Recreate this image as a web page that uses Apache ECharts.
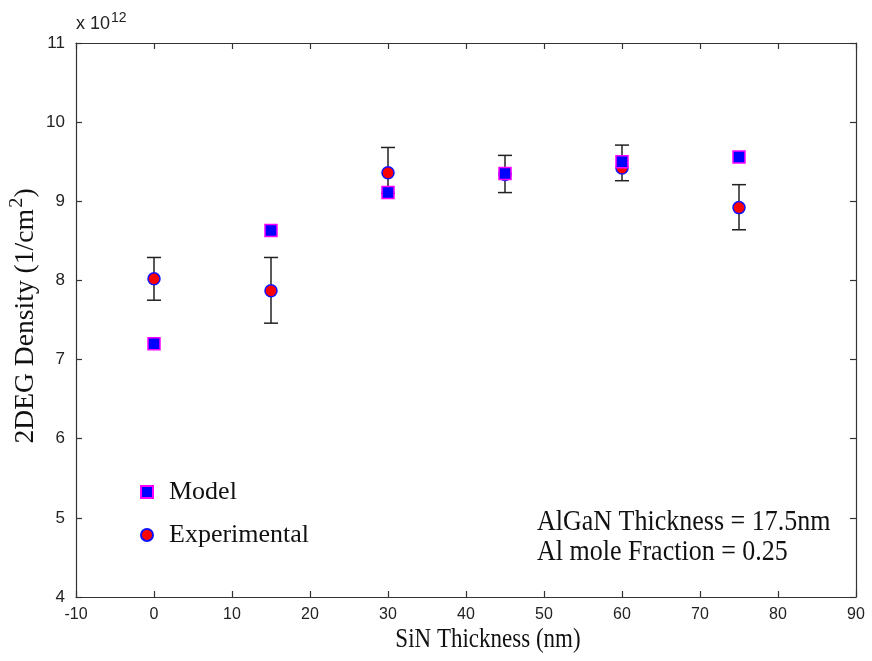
<!DOCTYPE html>
<html><head><meta charset="utf-8">
<script src="https://cdn.jsdelivr.net/npm/echarts@6/dist/echarts.min.js"></script>
<style>html,body{margin:0;padding:0;background:#fff}#c{width:872px;height:661px}</style>
</head><body><div id="c"></div>
<script>
var thickness = [0, 15, 30, 45, 60, 75];
var modelValues = [7.20, 8.63, 9.11, 9.35, 9.50, 9.56];
var expValues = [8.02, 7.87, 9.36, 9.34, 9.42, 8.92];
var expLow = [7.75, 7.46, 9.10, 9.11, 9.26, 8.64];
var expHigh = [8.29, 8.29, 9.68, 9.58, 9.71, 9.21];
var xTicks = [-10, 0, 10, 20, 30, 40, 50, 60, 70, 80, 90];
var yTicks = [4, 5, 6, 7, 8, 9, 10, 11];
var xTitle = 'SiN Thickness (nm)';
var yTitle = ['2DEG Density (1/cm', '2', ')'];
var annotation = ['AlGaN Thickness = 17.5nm', 'Al mole Fraction = 0.25'];

var chart = echarts.init(document.getElementById('c'));
var serif = '"Liberation Serif", "Times New Roman", serif';
var sans = '"Liberation Sans", Arial, sans-serif';
var axisLine = {show: true, onZero: false, lineStyle: {color: '#333', width: 1.2}};
var tick = {show: true, inside: true, length: 6, lineStyle: {color: '#333', width: 1.2}};
function baseX(pos, showLabel) {
  return {type: 'value', position: pos, min: xTicks[0], max: xTicks[xTicks.length-1], interval: 10,
    axisLine: axisLine, axisTick: tick, splitLine: {show: false},
    axisLabel: {show: showLabel, color: '#222', fontFamily: sans, fontSize: 16, margin: 10}};
}
function baseY(pos, showLabel) {
  return {type: 'value', position: pos, min: yTicks[0], max: yTicks[yTicks.length-1], interval: 1,
    axisLine: axisLine, axisTick: tick, splitLine: {show: false},
    axisLabel: {show: showLabel, color: '#222', fontFamily: sans, fontSize: 17, margin: 11}};
}

var errData = thickness.map(function(x, i){ return [x, expLow[i], expHigh[i]]; });

chart.setOption({
  animation: false,
  backgroundColor: '#fff',
  grid: {left: 76, right: 16, top: 43, bottom: 64, containLabel: false},
  xAxis: [baseX('bottom', true), baseX('top', false)],
  yAxis: [baseY('left', true), baseY('right', false)],
  legend: {
    orient: 'vertical', left: 135, top: 474, itemGap: 17,
    itemWidth: 12, itemHeight: 12,
    textStyle: {fontFamily: serif, fontSize: 26, lineHeight: 26, color: '#111', padding: [0,0,0,11]},
    data: [{name: 'Model', icon: 'rect'}, {name: 'Experimental', icon: 'circle'}]
  },
  graphic: [
    {type: 'text', x: 76, y: 33, style: {
      text: '{a|x 10}{s|12}', textVerticalAlign: 'bottom',
      rich: {a: {fontFamily: sans, fontSize: 18, fill: '#222', verticalAlign: 'bottom', lineHeight: 22},
             s: {fontFamily: sans, fontSize: 14, fill: '#222', verticalAlign: 'top', lineHeight: 22, padding: [0,0,12,1]}}
    }},
    {type: 'text', x: 488, y: 640, scaleY: 1.2, style: {text: xTitle, font: '23px ' + serif, fill: '#111', textAlign: 'center', textVerticalAlign: 'middle'}},
    {type: 'text', x: 23, y: 316, rotation: Math.PI / 2, scaleX: 1.2, scaleY: 1.15, style: {
      text: '{a|' + yTitle[0] + '}{s|' + yTitle[1] + '}{a|' + yTitle[2] + '}',
      textAlign: 'center', textVerticalAlign: 'middle',
      rich: {a: {fontFamily: serif, fontSize: 23, fill: '#111', verticalAlign: 'bottom', lineHeight: 28},
             s: {fontFamily: serif, fontSize: 17, fill: '#111', verticalAlign: 'top', lineHeight: 28, padding: [0,0,8,1]}}
    }},
    {type: 'text', x: 537, y: 522, scaleY: 1.1, style: {text: annotation[0], font: '26px ' + serif, fill: '#111', textVerticalAlign: 'middle'}},
    {type: 'text', x: 537, y: 552, scaleY: 1.1, style: {text: annotation[1], font: '26px ' + serif, fill: '#111', textVerticalAlign: 'middle'}}
  ],
  series: [
    {
      type: 'custom', name: 'err', z: 1,
      data: errData,
      renderItem: function(params, api) {
        var x = api.value(0);
        var lo = api.coord([x, api.value(1)]);
        var hi = api.coord([x, api.value(2)]);
        var w = 7;
        var st = {stroke: '#222', lineWidth: 1.5};
        return {type: 'group', children: [
          {type: 'line', shape: {x1: lo[0], y1: lo[1], x2: hi[0], y2: hi[1]}, style: st},
          {type: 'line', shape: {x1: lo[0]-w, y1: lo[1], x2: lo[0]+w, y2: lo[1]}, style: st},
          {type: 'line', shape: {x1: hi[0]-w, y1: hi[1], x2: hi[0]+w, y2: hi[1]}, style: st}
        ]};
      }
    },
    {
      type: 'scatter', name: 'Experimental', z: 2, symbol: 'circle', symbolSize: 12,
      itemStyle: {color: '#ff0000', borderColor: '#1010ff', borderWidth: 1.5, opacity: 1},
      data: thickness.map(function(x, i){ return [x, expValues[i]]; })
    },
    {
      type: 'scatter', name: 'Model', z: 3, symbol: 'rect', symbolSize: 12,
      itemStyle: {color: '#0000ff', borderColor: '#ff00ff', borderWidth: 1.5, opacity: 1},
      data: thickness.map(function(x, i){ return [x, modelValues[i]]; })
    }
  ]
});
</script></body></html>
